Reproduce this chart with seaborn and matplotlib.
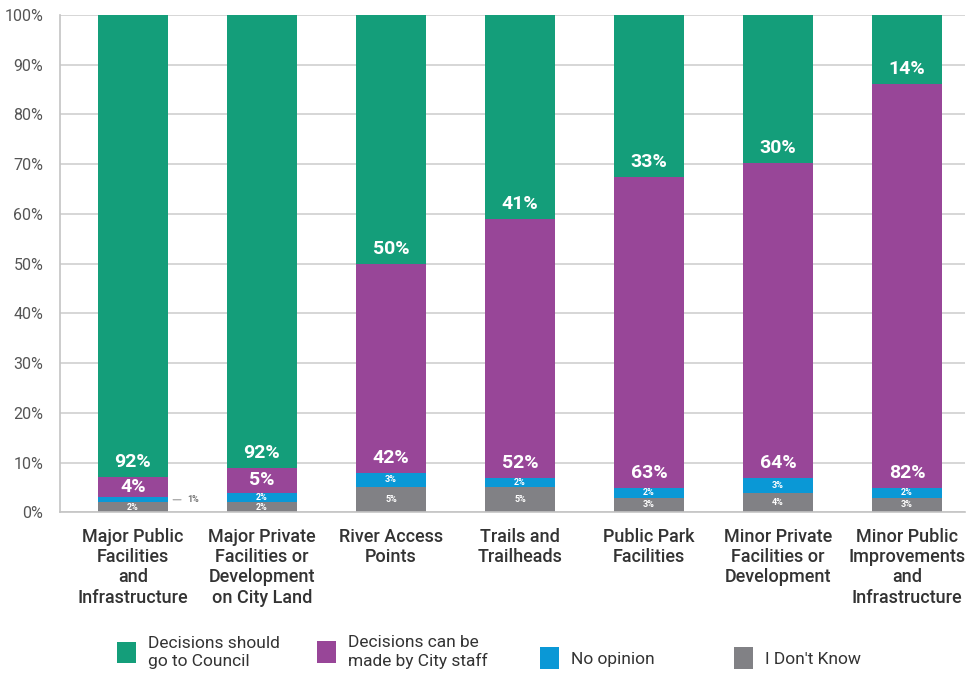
import numpy as np
import seaborn as sns
import matplotlib.pyplot as plt
from matplotlib.patches import Patch

categories = [
    "Major Public\nFacilities\nand\nInfrastructure",
    "Major Private\nFacilities or\nDevelopment\non City Land",
    "River Access\nPoints",
    "Trails and\nTrailheads",
    "Public Park\nFacilities",
    "Minor Private\nFacilities or\nDevelopment",
    "Minor Public\nImprovements\nand\nInfrastructure",
]
dont_know = [2, 2, 5, 5, 3, 4, 3]
no_opinion = [1, 2, 3, 2, 2, 3, 2]
city_staff = [4, 5, 42, 52, 63, 64, 82]
council = [92, 92, 50, 41, 33, 30, 14]

series_names = ["Decisions should\ngo to Council", "Decisions can be\nmade by City staff",
                "No opinion", "I Don't Know"]
colors = ["#149e7a", "#984698", "#0a98d6", "#818185"]

sns.set_style("white")
plt.rcParams["font.family"] = ["Roboto", "DejaVu Sans"]

# stack from the bottom: I don't know, no opinion, staff, council
layers = np.array([dont_know, no_opinion, city_staff, council], dtype=float)
layers = layers / layers.sum(axis=0) * 100  # rounded percentages -> fill to 100
tops = layers.cumsum(axis=0)
bottoms = tops - layers

fig = plt.figure(figsize=(9.66, 6.75), dpi=100)
ax = fig.add_axes([0.062, 0.241, 0.937, 0.737])

# draw tallest cumulative first so lower layers sit on top
for i, (name, col) in enumerate(zip(series_names, colors)):
    k = 3 - i
    sns.barplot(x=list(range(len(categories))), y=tops[k], color=col, saturation=1,
                width=0.54, ax=ax, zorder=2, linewidth=0)

ax.set_xlim(-0.566, 6.45)
ax.set_ylim(0, 100)
ax.set_yticks(range(0, 101, 10))
ax.set_yticklabels([f"{v}%" for v in range(0, 101, 10)], fontsize=11.5, color="#555555")
ax.set_xticks(range(len(categories)))
ax.set_xticklabels(categories, fontsize=13, color="#333333", fontweight="medium",
                   linespacing=1.17)
ax.tick_params(axis="y", length=0, pad=12)
ax.tick_params(axis="x", length=0, pad=11)
ax.set_xlabel("")
ax.set_ylabel("")
ax.yaxis.grid(True, color="#d0d0d0", linewidth=1.2, zorder=0)
ax.set_axisbelow(True)
for s in ["top", "right"]:
    ax.spines[s].set_visible(False)
for s in ["left", "bottom"]:
    ax.spines[s].set_color("#c4c4c4")
    ax.spines[s].set_linewidth(1.2)

raw = [dont_know, no_opinion, city_staff, council]
for j in range(len(categories)):
    for k in range(4):
        val = raw[k][j]
        h = layers[k][j]
        b = bottoms[k][j]
        if k >= 2:
            y = b + min(3, h / 2)
            ax.text(j, y, f"{val}%", ha="center", va="center", color="white",
                    fontsize=14, fontweight="bold", zorder=5)
        elif h >= 1.5:
            ax.text(j, b + h / 2, f"{val}%", ha="center", va="center", color="white",
                    fontsize=6.5, fontweight="bold", zorder=5)
        else:
            ax.annotate(f"{val}%", xy=(j + 0.29, b + h / 2), xytext=(j + 0.42, b + h / 2),
                        ha="left", va="center", fontsize=6.5, fontweight="bold",
                        color="#777777",
                        arrowprops=dict(arrowstyle="-", color="#999999", lw=0.8))

# legend entries placed individually along the bottom
legend_x = [0.110, 0.317, 0.548, 0.749]
for name, col, lx in zip(series_names, colors, legend_x):
    fig.legend([Patch(facecolor=col, edgecolor="none")], [name], loc="lower left",
               bbox_to_anchor=(lx, -0.006), frameon=False, fontsize=12.5,
               handlelength=1.1, handleheight=1.5, handletextpad=0.7,
               labelcolor="#333333", borderaxespad=0.2)

fig.savefig("out.png", dpi=100)
